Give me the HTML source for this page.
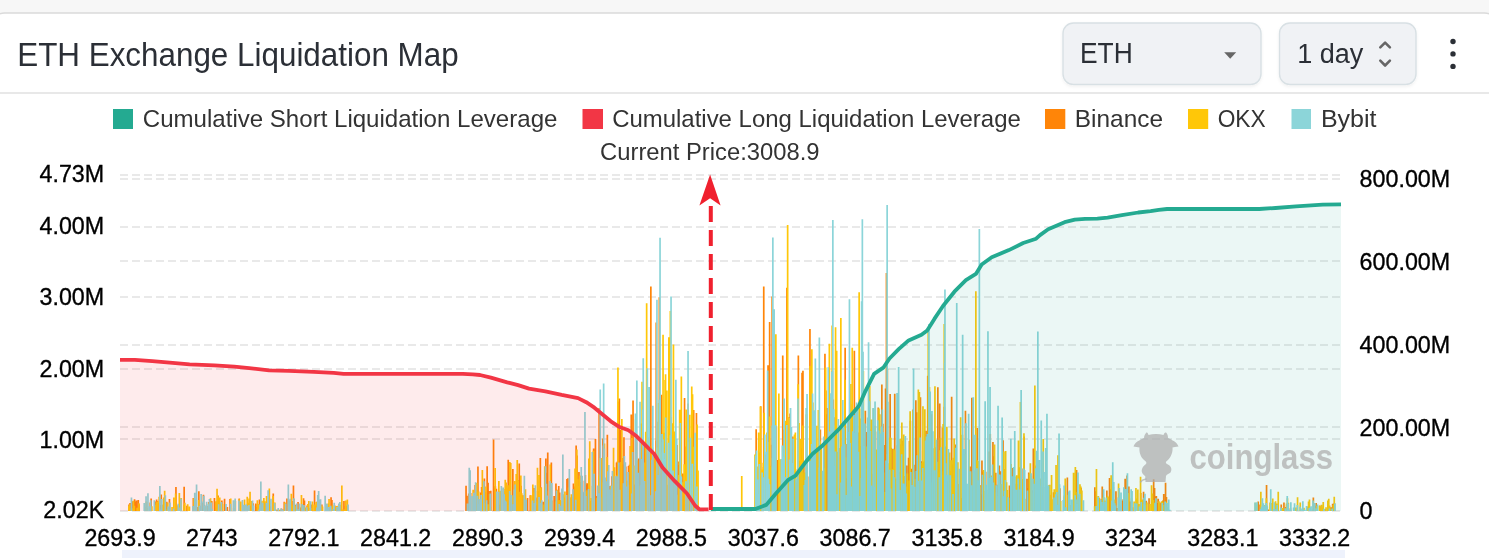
<!DOCTYPE html>
<html><head><meta charset="utf-8"><title>ETH Exchange Liquidation Map</title>
<style>
html,body{margin:0;padding:0}
body{width:1489px;height:558px;overflow:hidden;background:#f7f7f7;position:relative}
svg{position:absolute;left:0;top:0;font-family:"Liberation Sans",Arial,sans-serif}
</style></head><body>
<svg width="1489" height="558" viewBox="0 0 1489 558">
<defs><filter id="sh" x="-5%" y="-10%" width="110%" height="130%"><feDropShadow dx="0" dy="1.5" stdDeviation="1.5" flood-color="#000" flood-opacity="0.06"/></filter></defs>
<rect x="-8.5" y="13" width="1506" height="600" rx="13" fill="#fff" stroke="#dadada" stroke-width="1.5"/>
<rect x="0" y="92.2" width="1489" height="1.6" fill="#e3e3e3"/>
<rect x="1063" y="23" width="198" height="61.5" rx="10.5" fill="#f0f2f5" stroke="#d8e0e4" stroke-width="1.4" filter="url(#sh)"/>
<rect x="1279.5" y="23" width="136.5" height="61.5" rx="10.5" fill="#f0f2f5" stroke="#d8e0e4" stroke-width="1.4" filter="url(#sh)"/>
<path d="M1224.2,52.3 L1236.2,52.3 L1230.2,58.7 Z" fill="#666"/>
<polyline points="1380.3,47.4 1385.1,42.6 1389.9,47.4" fill="none" stroke="#666" stroke-width="2.6" stroke-linecap="round" stroke-linejoin="round"/>
<polyline points="1380.3,60.7 1385.1,65.5 1389.9,60.7" fill="none" stroke="#666" stroke-width="2.6" stroke-linecap="round" stroke-linejoin="round"/>
<circle cx="1453" cy="41.5" r="2.7" fill="#2b2f36"/><circle cx="1453" cy="53.9" r="2.7" fill="#2b2f36"/><circle cx="1453" cy="66.4" r="2.7" fill="#2b2f36"/>
<rect x="113" y="109" width="20" height="20" fill="#24aa91"/>
<rect x="582.5" y="109" width="20.5" height="20" fill="#f23645"/>
<rect x="1045" y="109" width="20.3" height="20" fill="#ff8508"/>
<rect x="1188" y="109" width="20.2" height="20" fill="#ffc708"/>
<rect x="1291.5" y="109" width="19.5" height="20" fill="#8cd5d9"/>
<text x="17.2" y="66.0" font-size="32.5" fill="#2b2f36" textLength="441.5" lengthAdjust="spacingAndGlyphs">ETH Exchange Liquidation Map</text><text x="1079.9" y="63.0" font-size="29.0" fill="#2b2f36" textLength="52.8" lengthAdjust="spacingAndGlyphs">ETH</text><text x="1297.2" y="63.0" font-size="28.4" fill="#2b2f36" textLength="66.2" lengthAdjust="spacingAndGlyphs">1 day</text><text x="142.8" y="127.0" font-size="24.2" fill="#333" textLength="414.6" lengthAdjust="spacingAndGlyphs">Cumulative Short Liquidation Leverage</text><text x="612.2" y="127.0" font-size="24.2" fill="#333" textLength="408.6" lengthAdjust="spacingAndGlyphs">Cumulative Long Liquidation Leverage</text><text x="1074.8" y="127.0" font-size="24.2" fill="#333" textLength="88.2" lengthAdjust="spacingAndGlyphs">Binance</text><text x="1217.7" y="127.0" font-size="24.2" fill="#333" textLength="48.0" lengthAdjust="spacingAndGlyphs">OKX</text><text x="1320.9" y="127.0" font-size="24.2" fill="#333" textLength="55.6" lengthAdjust="spacingAndGlyphs">Bybit</text><text x="709.8" y="159.5" font-size="24.4" fill="#333" text-anchor="middle" textLength="219.5" lengthAdjust="spacingAndGlyphs">Current Price:3008.9</text>
<g stroke="#e9e9e9" stroke-width="2" stroke-dasharray="8 4"><line x1="120" x2="1341" y1="175" y2="175"/><line x1="120" x2="1341" y1="179" y2="179"/><line x1="120" x2="1341" y1="227" y2="227"/><line x1="120" x2="1341" y1="261" y2="261"/><line x1="120" x2="1341" y1="297" y2="297"/><line x1="120" x2="1341" y1="345" y2="345"/><line x1="120" x2="1341" y1="369" y2="369"/><line x1="120" x2="1341" y1="427" y2="427"/><line x1="120" x2="1341" y1="439" y2="439"/><line x1="120" x2="1341" y1="511" y2="511"/></g>
<path fill="#ff8508" d="M128.2 504.4h1.7V511h-1.7zM129.2 503.1h1.7V511h-1.7zM130.1 508.2h1.7V511h-1.7zM131.9 501.3h1.7V511h-1.7zM132.8 507.3h1.7V511h-1.7zM133.7 499.2h1.7V511h-1.7zM134.7 501.7h1.7V511h-1.7zM135.6 500.6h1.7V511h-1.7zM137.4 500.1h1.7V511h-1.7zM138.3 504.3h1.7V511h-1.7zM145.7 501.8h1.7V511h-1.7zM149.4 502.6h1.7V511h-1.7zM150.3 498.5h1.7V511h-1.7zM154.9 501.5h1.7V511h-1.7zM155.8 499.6h1.7V511h-1.7zM156.7 500.9h1.7V511h-1.7zM157.6 503.1h1.7V511h-1.7zM159.5 504.9h1.7V511h-1.7zM160.4 494.5h1.7V511h-1.7zM161.3 509.5h1.7V511h-1.7zM162.2 505.1h1.7V511h-1.7zM165.9 501.8h1.7V511h-1.7zM168.6 499.0h1.7V511h-1.7zM174.1 509.3h1.7V511h-1.7zM175.1 487.1h1.7V511h-1.7zM178.7 503.9h1.7V511h-1.7zM183.3 486.7h1.7V511h-1.7zM186.1 505.8h1.7V511h-1.7zM192.5 498.0h1.7V511h-1.7zM195.3 508.3h1.7V511h-1.7zM197.1 506.9h1.7V511h-1.7zM198.0 491.3h1.7V511h-1.7zM198.9 505.8h1.7V511h-1.7zM200.8 503.1h1.7V511h-1.7zM201.7 508.6h1.7V511h-1.7zM202.6 494.8h1.7V511h-1.7zM203.5 504.8h1.7V511h-1.7zM207.2 505.9h1.7V511h-1.7zM208.1 501.9h1.7V511h-1.7zM209.0 506.2h1.7V511h-1.7zM210.9 500.9h1.7V511h-1.7zM213.6 498.1h1.7V511h-1.7zM214.5 507.6h1.7V511h-1.7zM215.5 501.5h1.7V511h-1.7zM217.3 495.5h1.7V511h-1.7zM219.1 503.9h1.7V511h-1.7zM221.0 500.5h1.7V511h-1.7zM223.7 498.8h1.7V511h-1.7zM224.6 507.7h1.7V511h-1.7zM226.5 507.1h1.7V511h-1.7zM229.2 499.1h1.7V511h-1.7zM232.9 508.0h1.7V511h-1.7zM238.4 498.4h1.7V511h-1.7zM246.7 506.9h1.7V511h-1.7zM249.4 505.8h1.7V511h-1.7zM250.3 505.9h1.7V511h-1.7zM252.2 503.2h1.7V511h-1.7zM254.9 503.6h1.7V511h-1.7zM255.8 506.9h1.7V511h-1.7zM256.8 504.1h1.7V511h-1.7zM258.6 499.6h1.7V511h-1.7zM260.4 502.2h1.7V511h-1.7zM263.2 503.9h1.7V511h-1.7zM264.1 507.7h1.7V511h-1.7zM265.0 503.0h1.7V511h-1.7zM267.8 501.3h1.7V511h-1.7zM272.4 493.5h1.7V511h-1.7zM275.1 509.8h1.7V511h-1.7zM277.0 509.8h1.7V511h-1.7zM278.8 509.9h1.7V511h-1.7zM280.6 508.5h1.7V511h-1.7zM281.6 509.4h1.7V511h-1.7zM282.5 510.1h1.7V511h-1.7zM283.4 501.8h1.7V511h-1.7zM284.3 503.5h1.7V511h-1.7zM286.1 498.6h1.7V511h-1.7zM288.0 504.7h1.7V511h-1.7zM290.7 501.0h1.7V511h-1.7zM291.7 508.3h1.7V511h-1.7zM292.6 485.6h1.7V511h-1.7zM294.4 504.7h1.7V511h-1.7zM296.2 509.5h1.7V511h-1.7zM297.2 502.1h1.7V511h-1.7zM299.9 507.5h1.7V511h-1.7zM300.8 506.6h1.7V511h-1.7zM302.7 498.3h1.7V511h-1.7zM303.6 500.4h1.7V511h-1.7zM306.3 505.5h1.7V511h-1.7zM310.9 504.6h1.7V511h-1.7zM313.7 490.5h1.7V511h-1.7zM314.6 505.5h1.7V511h-1.7zM315.5 506.9h1.7V511h-1.7zM316.4 501.4h1.7V511h-1.7zM317.4 507.2h1.7V511h-1.7zM318.3 505.3h1.7V511h-1.7zM321.0 504.4h1.7V511h-1.7zM330.2 497.2h1.7V511h-1.7zM331.1 500.1h1.7V511h-1.7zM333.9 505.6h1.7V511h-1.7zM335.7 506.7h1.7V511h-1.7zM339.4 508.6h1.7V511h-1.7zM343.1 501.1h1.7V511h-1.7zM344.9 505.8h1.7V511h-1.7zM345.8 505.8h1.7V511h-1.7zM465.2 485.8h1.7V511h-1.7zM466.1 495.8h1.7V511h-1.7zM467.9 493.6h1.7V511h-1.7zM468.8 493.8h1.7V511h-1.7zM469.8 493.0h1.7V511h-1.7zM473.4 494.2h1.7V511h-1.7zM474.3 484.9h1.7V511h-1.7zM475.3 496.4h1.7V511h-1.7zM476.2 502.9h1.7V511h-1.7zM477.1 466.6h1.7V511h-1.7zM479.9 492.4h1.7V511h-1.7zM480.8 487.1h1.7V511h-1.7zM483.5 478.4h1.7V511h-1.7zM484.4 491.8h1.7V511h-1.7zM486.3 466.3h1.7V511h-1.7zM487.2 482.7h1.7V511h-1.7zM488.1 491.0h1.7V511h-1.7zM489.9 490.7h1.7V511h-1.7zM492.7 439.5h1.7V511h-1.7zM493.6 488.2h1.7V511h-1.7zM494.5 486.2h1.7V511h-1.7zM495.5 488.8h1.7V511h-1.7zM498.2 504.5h1.7V511h-1.7zM502.8 491.1h1.7V511h-1.7zM504.6 504.0h1.7V511h-1.7zM506.5 495.7h1.7V511h-1.7zM507.4 459.7h1.7V511h-1.7zM508.3 501.4h1.7V511h-1.7zM509.2 487.7h1.7V511h-1.7zM512.0 468.9h1.7V511h-1.7zM513.8 497.0h1.7V511h-1.7zM514.7 504.3h1.7V511h-1.7zM517.5 479.9h1.7V511h-1.7zM518.4 463.5h1.7V511h-1.7zM519.3 478.0h1.7V511h-1.7zM520.2 485.8h1.7V511h-1.7zM522.1 495.2h1.7V511h-1.7zM526.7 497.9h1.7V511h-1.7zM529.4 495.2h1.7V511h-1.7zM533.1 488.1h1.7V511h-1.7zM534.0 506.4h1.7V511h-1.7zM534.9 497.4h1.7V511h-1.7zM535.9 505.6h1.7V511h-1.7zM536.8 491.1h1.7V511h-1.7zM537.7 493.4h1.7V511h-1.7zM538.6 480.3h1.7V511h-1.7zM539.5 457.9h1.7V511h-1.7zM540.4 487.6h1.7V511h-1.7zM542.3 501.7h1.7V511h-1.7zM543.2 502.9h1.7V511h-1.7zM545.0 458.4h1.7V511h-1.7zM546.0 472.8h1.7V511h-1.7zM546.9 452.4h1.7V511h-1.7zM548.7 501.9h1.7V511h-1.7zM549.6 485.0h1.7V511h-1.7zM550.5 462.5h1.7V511h-1.7zM553.3 496.0h1.7V511h-1.7zM555.1 483.4h1.7V511h-1.7zM556.0 489.8h1.7V511h-1.7zM557.0 492.3h1.7V511h-1.7zM557.9 485.9h1.7V511h-1.7zM558.8 492.4h1.7V511h-1.7zM561.6 504.1h1.7V511h-1.7zM562.5 504.4h1.7V511h-1.7zM563.4 498.9h1.7V511h-1.7zM566.1 478.9h1.7V511h-1.7zM567.1 478.2h1.7V511h-1.7zM570.7 497.3h1.7V511h-1.7zM572.6 483.5h1.7V511h-1.7zM573.5 486.5h1.7V511h-1.7zM575.3 445.6h1.7V511h-1.7zM576.2 455.4h1.7V511h-1.7zM578.1 472.1h1.7V511h-1.7zM579.0 475.7h1.7V511h-1.7zM579.9 482.0h1.7V511h-1.7zM580.8 485.5h1.7V511h-1.7zM582.7 492.3h1.7V511h-1.7zM583.6 480.7h1.7V511h-1.7zM584.5 475.1h1.7V511h-1.7zM585.4 485.0h1.7V511h-1.7zM586.3 483.3h1.7V511h-1.7zM587.3 492.2h1.7V511h-1.7zM588.2 502.3h1.7V511h-1.7zM592.8 448.6h1.7V511h-1.7zM594.6 439.1h1.7V511h-1.7zM595.5 496.1h1.7V511h-1.7zM597.4 490.5h1.7V511h-1.7zM598.3 408.1h1.7V511h-1.7zM599.2 408.8h1.7V511h-1.7zM600.1 468.6h1.7V511h-1.7zM601.0 490.6h1.7V511h-1.7zM602.0 438.6h1.7V511h-1.7zM602.9 487.2h1.7V511h-1.7zM603.8 487.7h1.7V511h-1.7zM606.5 434.8h1.7V511h-1.7zM608.4 486.0h1.7V511h-1.7zM611.1 476.2h1.7V511h-1.7zM614.8 496.3h1.7V511h-1.7zM615.7 462.5h1.7V511h-1.7zM616.6 461.4h1.7V511h-1.7zM617.6 401.4h1.7V511h-1.7zM618.5 398.4h1.7V511h-1.7zM619.4 430.1h1.7V511h-1.7zM620.3 491.5h1.7V511h-1.7zM621.2 458.0h1.7V511h-1.7zM622.1 464.4h1.7V511h-1.7zM623.1 437.2h1.7V511h-1.7zM624.9 466.6h1.7V511h-1.7zM627.7 465.9h1.7V511h-1.7zM628.6 464.7h1.7V511h-1.7zM629.5 474.5h1.7V511h-1.7zM630.4 414.4h1.7V511h-1.7zM632.2 400.4h1.7V511h-1.7zM633.2 484.6h1.7V511h-1.7zM634.1 493.1h1.7V511h-1.7zM635.0 475.8h1.7V511h-1.7zM635.9 461.2h1.7V511h-1.7zM637.8 458.5h1.7V511h-1.7zM639.6 457.6h1.7V511h-1.7zM640.5 452.5h1.7V511h-1.7zM641.4 479.8h1.7V511h-1.7zM642.3 389.2h1.7V511h-1.7zM643.3 445.2h1.7V511h-1.7zM646.0 407.3h1.7V511h-1.7zM650.6 460.6h1.7V511h-1.7zM651.5 447.6h1.7V511h-1.7zM653.4 454.2h1.7V511h-1.7zM654.3 457.9h1.7V511h-1.7zM655.2 440.6h1.7V511h-1.7zM657.0 421.7h1.7V511h-1.7zM658.0 434.4h1.7V511h-1.7zM658.9 477.5h1.7V511h-1.7zM659.8 477.7h1.7V511h-1.7zM660.7 394.8h1.7V511h-1.7zM665.3 456.5h1.7V511h-1.7zM669.9 416.9h1.7V511h-1.7zM671.7 453.7h1.7V511h-1.7zM672.6 463.2h1.7V511h-1.7zM673.6 464.1h1.7V511h-1.7zM675.4 448.4h1.7V511h-1.7zM676.3 444.9h1.7V511h-1.7zM677.2 461.4h1.7V511h-1.7zM678.1 465.0h1.7V511h-1.7zM679.1 491.5h1.7V511h-1.7zM680.0 497.2h1.7V511h-1.7zM681.8 473.5h1.7V511h-1.7zM682.7 491.7h1.7V511h-1.7zM683.7 398.1h1.7V511h-1.7zM685.5 446.5h1.7V511h-1.7zM686.4 455.9h1.7V511h-1.7zM687.3 403.4h1.7V511h-1.7zM688.2 475.5h1.7V511h-1.7zM689.2 443.9h1.7V511h-1.7zM691.0 480.7h1.7V511h-1.7zM691.9 481.3h1.7V511h-1.7zM692.8 410.1h1.7V511h-1.7zM694.7 490.6h1.7V511h-1.7zM695.6 412.9h1.7V511h-1.7zM696.5 479.6h1.7V511h-1.7zM755.3 429.2h1.7V511h-1.7zM758.9 452.4h1.7V511h-1.7zM759.9 406.3h1.7V511h-1.7zM762.6 467.0h1.7V511h-1.7zM764.4 477.4h1.7V511h-1.7zM767.2 365.2h1.7V511h-1.7zM769.0 465.8h1.7V511h-1.7zM770.9 444.8h1.7V511h-1.7zM772.7 479.9h1.7V511h-1.7zM775.5 426.2h1.7V511h-1.7zM776.4 459.9h1.7V511h-1.7zM777.3 475.6h1.7V511h-1.7zM780.1 476.3h1.7V511h-1.7zM781.9 355.6h1.7V511h-1.7zM782.8 429.7h1.7V511h-1.7zM785.6 457.8h1.7V511h-1.7zM786.5 478.2h1.7V511h-1.7zM788.3 417.1h1.7V511h-1.7zM789.2 413.4h1.7V511h-1.7zM791.1 498.4h1.7V511h-1.7zM792.0 436.4h1.7V511h-1.7zM792.9 486.4h1.7V511h-1.7zM796.6 469.2h1.7V511h-1.7zM797.5 355.6h1.7V511h-1.7zM799.3 460.8h1.7V511h-1.7zM800.2 448.2h1.7V511h-1.7zM801.2 372.8h1.7V511h-1.7zM802.1 370.8h1.7V511h-1.7zM803.0 461.9h1.7V511h-1.7zM804.8 476.4h1.7V511h-1.7zM805.8 414.3h1.7V511h-1.7zM808.5 476.6h1.7V511h-1.7zM809.4 451.1h1.7V511h-1.7zM811.3 472.7h1.7V511h-1.7zM813.1 459.2h1.7V511h-1.7zM814.0 454.3h1.7V511h-1.7zM814.9 450.1h1.7V511h-1.7zM815.9 451.6h1.7V511h-1.7zM818.6 457.1h1.7V511h-1.7zM819.5 429.5h1.7V511h-1.7zM823.2 473.6h1.7V511h-1.7zM824.1 353.8h1.7V511h-1.7zM825.0 390.4h1.7V511h-1.7zM826.0 414.3h1.7V511h-1.7zM826.9 408.0h1.7V511h-1.7zM827.8 450.4h1.7V511h-1.7zM830.5 397.2h1.7V511h-1.7zM831.5 371.0h1.7V511h-1.7zM832.4 399.6h1.7V511h-1.7zM833.3 452.7h1.7V511h-1.7zM834.2 417.2h1.7V511h-1.7zM835.1 441.0h1.7V511h-1.7zM837.9 448.0h1.7V511h-1.7zM840.6 476.4h1.7V511h-1.7zM841.6 428.2h1.7V511h-1.7zM842.5 462.0h1.7V511h-1.7zM844.3 347.7h1.7V511h-1.7zM845.2 478.3h1.7V511h-1.7zM846.2 443.9h1.7V511h-1.7zM847.1 419.8h1.7V511h-1.7zM848.0 481.3h1.7V511h-1.7zM848.9 494.6h1.7V511h-1.7zM849.8 403.8h1.7V511h-1.7zM851.7 478.3h1.7V511h-1.7zM852.6 456.8h1.7V511h-1.7zM853.5 350.8h1.7V511h-1.7zM854.4 432.0h1.7V511h-1.7zM855.3 412.8h1.7V511h-1.7zM856.2 466.8h1.7V511h-1.7zM857.2 432.6h1.7V511h-1.7zM859.0 492.3h1.7V511h-1.7zM860.8 429.4h1.7V511h-1.7zM861.8 405.2h1.7V511h-1.7zM862.7 438.4h1.7V511h-1.7zM864.5 410.7h1.7V511h-1.7zM865.4 431.9h1.7V511h-1.7zM866.3 442.3h1.7V511h-1.7zM867.3 430.4h1.7V511h-1.7zM869.1 479.5h1.7V511h-1.7zM870.0 488.9h1.7V511h-1.7zM870.9 473.8h1.7V511h-1.7zM874.6 431.5h1.7V511h-1.7zM875.5 472.1h1.7V511h-1.7zM877.4 407.5h1.7V511h-1.7zM878.3 453.5h1.7V511h-1.7zM879.2 471.6h1.7V511h-1.7zM880.1 448.0h1.7V511h-1.7zM881.0 384.4h1.7V511h-1.7zM882.0 423.8h1.7V511h-1.7zM883.8 445.0h1.7V511h-1.7zM884.7 388.5h1.7V511h-1.7zM885.6 478.4h1.7V511h-1.7zM886.5 368.9h1.7V511h-1.7zM889.3 394.0h1.7V511h-1.7zM890.2 447.8h1.7V511h-1.7zM892.1 448.7h1.7V511h-1.7zM893.0 477.9h1.7V511h-1.7zM893.9 393.8h1.7V511h-1.7zM895.7 486.7h1.7V511h-1.7zM899.4 471.7h1.7V511h-1.7zM900.3 444.3h1.7V511h-1.7zM901.2 440.6h1.7V511h-1.7zM902.2 486.8h1.7V511h-1.7zM903.1 476.0h1.7V511h-1.7zM904.0 480.1h1.7V511h-1.7zM904.9 480.0h1.7V511h-1.7zM905.8 465.5h1.7V511h-1.7zM906.7 481.7h1.7V511h-1.7zM907.7 457.8h1.7V511h-1.7zM908.6 441.0h1.7V511h-1.7zM909.5 420.8h1.7V511h-1.7zM910.4 468.7h1.7V511h-1.7zM911.3 482.1h1.7V511h-1.7zM912.2 409.6h1.7V511h-1.7zM913.2 464.7h1.7V511h-1.7zM915.0 400.2h1.7V511h-1.7zM915.9 412.2h1.7V511h-1.7zM916.8 455.9h1.7V511h-1.7zM917.8 485.9h1.7V511h-1.7zM918.7 485.8h1.7V511h-1.7zM919.6 397.3h1.7V511h-1.7zM920.5 461.2h1.7V511h-1.7zM921.4 491.9h1.7V511h-1.7zM922.3 467.9h1.7V511h-1.7zM923.3 462.8h1.7V511h-1.7zM925.1 430.7h1.7V511h-1.7zM926.0 498.5h1.7V511h-1.7zM926.9 375.7h1.7V511h-1.7zM927.9 450.9h1.7V511h-1.7zM928.8 444.6h1.7V511h-1.7zM929.7 470.6h1.7V511h-1.7zM930.6 414.3h1.7V511h-1.7zM933.4 481.4h1.7V511h-1.7zM934.3 495.4h1.7V511h-1.7zM935.2 447.3h1.7V511h-1.7zM936.1 449.9h1.7V511h-1.7zM937.0 387.3h1.7V511h-1.7zM938.9 403.6h1.7V511h-1.7zM939.8 487.8h1.7V511h-1.7zM940.7 460.3h1.7V511h-1.7zM941.6 427.5h1.7V511h-1.7zM943.5 406.8h1.7V511h-1.7zM944.4 486.1h1.7V511h-1.7zM945.3 446.6h1.7V511h-1.7zM946.2 481.2h1.7V511h-1.7zM948.1 461.6h1.7V511h-1.7zM949.0 477.5h1.7V511h-1.7zM950.8 396.8h1.7V511h-1.7zM952.6 464.2h1.7V511h-1.7zM954.5 444.5h1.7V511h-1.7zM955.4 494.6h1.7V511h-1.7zM958.2 484.0h1.7V511h-1.7zM960.9 498.1h1.7V511h-1.7zM961.8 493.4h1.7V511h-1.7zM964.6 410.7h1.7V511h-1.7zM969.2 466.4h1.7V511h-1.7zM970.1 482.1h1.7V511h-1.7zM971.0 397.8h1.7V511h-1.7zM973.8 474.2h1.7V511h-1.7zM976.5 428.1h1.7V511h-1.7zM977.4 498.0h1.7V511h-1.7zM979.3 485.2h1.7V511h-1.7zM980.2 494.6h1.7V511h-1.7zM981.1 460.5h1.7V511h-1.7zM982.0 471.6h1.7V511h-1.7zM984.8 471.7h1.7V511h-1.7zM985.7 489.8h1.7V511h-1.7zM988.4 451.5h1.7V511h-1.7zM989.4 434.1h1.7V511h-1.7zM991.2 483.6h1.7V511h-1.7zM992.1 442.0h1.7V511h-1.7zM993.0 456.2h1.7V511h-1.7zM994.9 472.8h1.7V511h-1.7zM996.7 484.7h1.7V511h-1.7zM998.5 465.4h1.7V511h-1.7zM999.5 471.2h1.7V511h-1.7zM1002.2 440.2h1.7V511h-1.7zM1004.1 468.9h1.7V511h-1.7zM1005.0 494.6h1.7V511h-1.7zM1008.6 485.6h1.7V511h-1.7zM1011.4 468.0h1.7V511h-1.7zM1012.3 490.6h1.7V511h-1.7zM1013.2 471.0h1.7V511h-1.7zM1014.2 483.8h1.7V511h-1.7zM1016.9 483.9h1.7V511h-1.7zM1020.6 489.0h1.7V511h-1.7zM1022.4 468.5h1.7V511h-1.7zM1023.3 436.5h1.7V511h-1.7zM1026.1 478.8h1.7V511h-1.7zM1027.0 488.0h1.7V511h-1.7zM1027.9 472.6h1.7V511h-1.7zM1031.6 490.3h1.7V511h-1.7zM1032.5 448.5h1.7V511h-1.7zM1033.4 494.9h1.7V511h-1.7zM1034.3 502.0h1.7V511h-1.7zM1035.3 465.6h1.7V511h-1.7zM1036.2 494.7h1.7V511h-1.7zM1038.0 467.7h1.7V511h-1.7zM1039.9 490.1h1.7V511h-1.7zM1042.6 487.1h1.7V511h-1.7zM1045.4 483.5h1.7V511h-1.7zM1049.0 494.8h1.7V511h-1.7zM1052.7 492.2h1.7V511h-1.7zM1054.5 495.9h1.7V511h-1.7zM1055.5 493.0h1.7V511h-1.7zM1056.4 496.3h1.7V511h-1.7zM1059.1 488.2h1.7V511h-1.7zM1063.7 495.3h1.7V511h-1.7zM1066.5 477.4h1.7V511h-1.7zM1069.2 504.9h1.7V511h-1.7zM1072.9 500.7h1.7V511h-1.7zM1075.7 469.9h1.7V511h-1.7zM1078.4 494.8h1.7V511h-1.7zM1080.3 487.9h1.7V511h-1.7zM1094.0 487.2h1.7V511h-1.7zM1094.9 491.3h1.7V511h-1.7zM1098.6 498.5h1.7V511h-1.7zM1100.4 499.5h1.7V511h-1.7zM1101.4 486.4h1.7V511h-1.7zM1105.0 502.8h1.7V511h-1.7zM1106.0 490.5h1.7V511h-1.7zM1108.7 478.1h1.7V511h-1.7zM1109.6 489.3h1.7V511h-1.7zM1112.4 486.7h1.7V511h-1.7zM1113.3 504.5h1.7V511h-1.7zM1115.1 491.3h1.7V511h-1.7zM1116.1 508.1h1.7V511h-1.7zM1117.9 497.1h1.7V511h-1.7zM1118.8 505.7h1.7V511h-1.7zM1121.6 500.6h1.7V511h-1.7zM1122.5 499.0h1.7V511h-1.7zM1124.3 478.7h1.7V511h-1.7zM1126.2 475.6h1.7V511h-1.7zM1127.1 500.3h1.7V511h-1.7zM1128.0 486.5h1.7V511h-1.7zM1129.8 501.4h1.7V511h-1.7zM1130.7 498.3h1.7V511h-1.7zM1131.7 507.3h1.7V511h-1.7zM1134.4 505.0h1.7V511h-1.7zM1139.9 493.0h1.7V511h-1.7zM1142.7 491.7h1.7V511h-1.7zM1144.5 501.1h1.7V511h-1.7zM1145.4 500.8h1.7V511h-1.7zM1148.2 498.3h1.7V511h-1.7zM1150.9 498.1h1.7V511h-1.7zM1151.9 498.9h1.7V511h-1.7zM1152.8 479.3h1.7V511h-1.7zM1153.7 488.1h1.7V511h-1.7zM1154.6 497.2h1.7V511h-1.7zM1155.5 495.9h1.7V511h-1.7zM1156.4 503.0h1.7V511h-1.7zM1157.4 498.7h1.7V511h-1.7zM1158.3 504.2h1.7V511h-1.7zM1159.2 502.5h1.7V511h-1.7zM1161.0 504.9h1.7V511h-1.7zM1162.0 500.6h1.7V511h-1.7zM1162.9 493.9h1.7V511h-1.7zM1164.7 482.7h1.7V511h-1.7zM1165.6 497.0h1.7V511h-1.7zM1256.5 507.3h1.7V511h-1.7zM1257.4 501.5h1.7V511h-1.7zM1259.3 504.6h1.7V511h-1.7zM1265.7 484.9h1.7V511h-1.7zM1267.5 509.6h1.7V511h-1.7zM1271.2 502.9h1.7V511h-1.7zM1274.9 507.7h1.7V511h-1.7zM1280.4 504.6h1.7V511h-1.7zM1283.1 502.5h1.7V511h-1.7zM1285.0 507.1h1.7V511h-1.7zM1285.9 505.0h1.7V511h-1.7zM1289.6 508.2h1.7V511h-1.7zM1311.6 509.5h1.7V511h-1.7zM1312.5 497.4h1.7V511h-1.7zM1314.4 505.8h1.7V511h-1.7zM1315.3 503.1h1.7V511h-1.7zM1316.2 507.6h1.7V511h-1.7zM1318.9 505.4h1.7V511h-1.7zM1320.8 507.0h1.7V511h-1.7zM1327.2 507.2h1.7V511h-1.7zM1328.1 508.6h1.7V511h-1.7zM1329.0 509.8h1.7V511h-1.7zM1330.0 507.2h1.7V511h-1.7zM1330.9 507.8h1.7V511h-1.7zM1331.8 503.7h1.7V511h-1.7zM1332.7 507.4h1.7V511h-1.7zM1333.6 503.1h1.7V511h-1.7zM650.0 286.6h1.7V511h-1.7zM655.4 322.5h1.7V511h-1.7zM658.5 297.2h1.7V511h-1.7zM762.9 286.4h1.7V511h-1.7zM768.8 321.9h1.7V511h-1.7zM771.3 296.6h1.7V511h-1.7zM786.1 287.8h1.7V511h-1.7zM809.1 328.9h1.7V511h-1.7zM885.6 273.0h1.7V511h-1.7z"/><path fill="#ffc708" d="M128.0 506.0h1.7V511h-1.7zM128.9 504.3h1.7V511h-1.7zM129.9 508.2h1.7V511h-1.7zM131.7 508.3h1.7V511h-1.7zM132.6 500.8h1.7V511h-1.7zM133.5 505.8h1.7V511h-1.7zM136.3 507.8h1.7V511h-1.7zM138.1 503.3h1.7V511h-1.7zM144.5 507.0h1.7V511h-1.7zM145.5 501.6h1.7V511h-1.7zM146.4 508.0h1.7V511h-1.7zM151.0 506.2h1.7V511h-1.7zM154.6 504.7h1.7V511h-1.7zM155.6 502.2h1.7V511h-1.7zM156.5 501.5h1.7V511h-1.7zM158.3 496.8h1.7V511h-1.7zM161.1 504.6h1.7V511h-1.7zM162.9 497.4h1.7V511h-1.7zM163.8 490.8h1.7V511h-1.7zM165.7 509.5h1.7V511h-1.7zM166.6 502.8h1.7V511h-1.7zM168.4 509.1h1.7V511h-1.7zM171.2 507.1h1.7V511h-1.7zM173.0 497.5h1.7V511h-1.7zM174.8 493.5h1.7V511h-1.7zM176.7 505.2h1.7V511h-1.7zM178.5 493.1h1.7V511h-1.7zM180.4 498.0h1.7V511h-1.7zM183.1 505.1h1.7V511h-1.7zM184.0 502.8h1.7V511h-1.7zM186.8 504.3h1.7V511h-1.7zM188.6 506.4h1.7V511h-1.7zM193.2 498.3h1.7V511h-1.7zM197.8 500.1h1.7V511h-1.7zM204.2 506.6h1.7V511h-1.7zM207.9 503.6h1.7V511h-1.7zM208.8 502.8h1.7V511h-1.7zM209.7 498.2h1.7V511h-1.7zM215.2 501.6h1.7V511h-1.7zM216.2 488.7h1.7V511h-1.7zM217.1 496.4h1.7V511h-1.7zM218.0 504.0h1.7V511h-1.7zM218.9 497.5h1.7V511h-1.7zM219.8 507.1h1.7V511h-1.7zM220.7 503.2h1.7V511h-1.7zM221.7 504.1h1.7V511h-1.7zM229.9 498.6h1.7V511h-1.7zM234.5 501.0h1.7V511h-1.7zM238.2 499.3h1.7V511h-1.7zM240.0 501.4h1.7V511h-1.7zM243.7 499.4h1.7V511h-1.7zM246.4 496.8h1.7V511h-1.7zM247.4 502.7h1.7V511h-1.7zM248.3 498.5h1.7V511h-1.7zM249.2 491.8h1.7V511h-1.7zM250.1 509.6h1.7V511h-1.7zM251.0 501.1h1.7V511h-1.7zM252.0 505.8h1.7V511h-1.7zM256.5 500.3h1.7V511h-1.7zM257.5 503.9h1.7V511h-1.7zM258.4 506.5h1.7V511h-1.7zM261.1 500.7h1.7V511h-1.7zM263.0 498.1h1.7V511h-1.7zM263.9 501.3h1.7V511h-1.7zM265.7 496.0h1.7V511h-1.7zM268.5 488.4h1.7V511h-1.7zM269.4 506.2h1.7V511h-1.7zM272.2 496.1h1.7V511h-1.7zM273.1 505.8h1.7V511h-1.7zM274.0 502.5h1.7V511h-1.7zM274.9 509.7h1.7V511h-1.7zM277.7 509.3h1.7V511h-1.7zM278.6 510.3h1.7V511h-1.7zM283.2 510.3h1.7V511h-1.7zM284.1 502.4h1.7V511h-1.7zM287.8 506.3h1.7V511h-1.7zM289.6 507.6h1.7V511h-1.7zM290.5 493.7h1.7V511h-1.7zM291.4 505.3h1.7V511h-1.7zM293.3 499.1h1.7V511h-1.7zM294.2 505.4h1.7V511h-1.7zM295.1 506.9h1.7V511h-1.7zM297.9 509.3h1.7V511h-1.7zM300.6 495.0h1.7V511h-1.7zM301.5 506.8h1.7V511h-1.7zM304.3 507.4h1.7V511h-1.7zM306.1 506.9h1.7V511h-1.7zM307.0 503.9h1.7V511h-1.7zM308.0 501.0h1.7V511h-1.7zM309.8 508.0h1.7V511h-1.7zM311.6 501.5h1.7V511h-1.7zM313.5 504.5h1.7V511h-1.7zM315.3 502.0h1.7V511h-1.7zM316.2 506.5h1.7V511h-1.7zM319.0 507.2h1.7V511h-1.7zM319.9 505.0h1.7V511h-1.7zM321.7 506.4h1.7V511h-1.7zM325.4 506.1h1.7V511h-1.7zM327.2 503.5h1.7V511h-1.7zM328.2 498.9h1.7V511h-1.7zM330.0 508.4h1.7V511h-1.7zM330.9 507.2h1.7V511h-1.7zM331.8 505.3h1.7V511h-1.7zM334.6 507.0h1.7V511h-1.7zM335.5 505.9h1.7V511h-1.7zM337.3 505.8h1.7V511h-1.7zM338.3 507.5h1.7V511h-1.7zM339.2 504.7h1.7V511h-1.7zM341.0 485.6h1.7V511h-1.7zM341.9 509.6h1.7V511h-1.7zM343.8 509.3h1.7V511h-1.7zM344.7 500.6h1.7V511h-1.7zM346.5 499.6h1.7V511h-1.7zM472.3 489.7h1.7V511h-1.7zM473.2 506.1h1.7V511h-1.7zM474.1 494.7h1.7V511h-1.7zM475.0 498.3h1.7V511h-1.7zM476.0 483.1h1.7V511h-1.7zM477.8 491.6h1.7V511h-1.7zM479.6 501.2h1.7V511h-1.7zM480.6 494.4h1.7V511h-1.7zM481.5 470.0h1.7V511h-1.7zM482.4 495.9h1.7V511h-1.7zM484.2 503.2h1.7V511h-1.7zM485.1 486.5h1.7V511h-1.7zM487.0 504.3h1.7V511h-1.7zM488.8 493.9h1.7V511h-1.7zM489.7 506.8h1.7V511h-1.7zM494.3 468.0h1.7V511h-1.7zM498.0 481.1h1.7V511h-1.7zM499.8 490.7h1.7V511h-1.7zM502.6 488.9h1.7V511h-1.7zM503.5 494.5h1.7V511h-1.7zM504.4 479.7h1.7V511h-1.7zM505.3 482.6h1.7V511h-1.7zM506.3 488.6h1.7V511h-1.7zM507.2 485.3h1.7V511h-1.7zM508.1 504.8h1.7V511h-1.7zM509.0 461.9h1.7V511h-1.7zM509.9 462.9h1.7V511h-1.7zM511.8 495.4h1.7V511h-1.7zM513.6 480.9h1.7V511h-1.7zM514.5 491.5h1.7V511h-1.7zM515.4 474.0h1.7V511h-1.7zM516.4 460.1h1.7V511h-1.7zM517.3 480.2h1.7V511h-1.7zM518.2 497.0h1.7V511h-1.7zM519.1 491.8h1.7V511h-1.7zM520.0 475.4h1.7V511h-1.7zM520.9 493.2h1.7V511h-1.7zM522.8 495.8h1.7V511h-1.7zM524.6 489.2h1.7V511h-1.7zM530.1 495.3h1.7V511h-1.7zM532.0 484.6h1.7V511h-1.7zM532.9 500.5h1.7V511h-1.7zM533.8 492.2h1.7V511h-1.7zM534.7 501.3h1.7V511h-1.7zM536.6 467.7h1.7V511h-1.7zM538.4 475.0h1.7V511h-1.7zM539.3 488.2h1.7V511h-1.7zM540.2 487.4h1.7V511h-1.7zM542.1 504.6h1.7V511h-1.7zM543.9 466.3h1.7V511h-1.7zM544.8 497.1h1.7V511h-1.7zM545.7 491.2h1.7V511h-1.7zM547.6 499.5h1.7V511h-1.7zM549.4 464.5h1.7V511h-1.7zM551.2 500.5h1.7V511h-1.7zM554.9 501.4h1.7V511h-1.7zM555.8 497.0h1.7V511h-1.7zM556.7 490.3h1.7V511h-1.7zM557.7 500.2h1.7V511h-1.7zM559.5 500.0h1.7V511h-1.7zM560.4 505.7h1.7V511h-1.7zM561.3 500.7h1.7V511h-1.7zM562.3 494.3h1.7V511h-1.7zM563.2 497.5h1.7V511h-1.7zM564.1 491.4h1.7V511h-1.7zM567.8 487.6h1.7V511h-1.7zM569.6 497.6h1.7V511h-1.7zM570.5 494.3h1.7V511h-1.7zM574.2 468.4h1.7V511h-1.7zM575.1 471.9h1.7V511h-1.7zM576.0 449.6h1.7V511h-1.7zM576.9 479.2h1.7V511h-1.7zM577.9 486.1h1.7V511h-1.7zM578.8 475.4h1.7V511h-1.7zM584.3 491.6h1.7V511h-1.7zM586.1 490.2h1.7V511h-1.7zM588.0 458.5h1.7V511h-1.7zM588.9 441.3h1.7V511h-1.7zM589.8 501.3h1.7V511h-1.7zM590.7 498.0h1.7V511h-1.7zM591.6 485.8h1.7V511h-1.7zM592.6 450.8h1.7V511h-1.7zM593.5 499.7h1.7V511h-1.7zM596.2 498.1h1.7V511h-1.7zM598.1 475.4h1.7V511h-1.7zM599.0 457.9h1.7V511h-1.7zM599.9 494.2h1.7V511h-1.7zM600.8 457.9h1.7V511h-1.7zM601.7 482.6h1.7V511h-1.7zM603.6 443.6h1.7V511h-1.7zM606.3 457.1h1.7V511h-1.7zM610.0 485.8h1.7V511h-1.7zM612.7 447.7h1.7V511h-1.7zM613.7 467.3h1.7V511h-1.7zM615.5 491.0h1.7V511h-1.7zM616.4 474.9h1.7V511h-1.7zM620.1 462.0h1.7V511h-1.7zM621.0 419.0h1.7V511h-1.7zM624.7 471.7h1.7V511h-1.7zM625.6 499.2h1.7V511h-1.7zM626.5 480.5h1.7V511h-1.7zM627.4 485.1h1.7V511h-1.7zM629.3 445.9h1.7V511h-1.7zM630.2 459.0h1.7V511h-1.7zM631.1 438.1h1.7V511h-1.7zM632.9 465.6h1.7V511h-1.7zM634.8 419.4h1.7V511h-1.7zM635.7 442.2h1.7V511h-1.7zM636.6 460.4h1.7V511h-1.7zM638.5 485.7h1.7V511h-1.7zM640.3 423.4h1.7V511h-1.7zM641.2 381.8h1.7V511h-1.7zM642.1 473.4h1.7V511h-1.7zM643.0 480.7h1.7V511h-1.7zM644.0 462.6h1.7V511h-1.7zM644.9 431.7h1.7V511h-1.7zM645.8 379.0h1.7V511h-1.7zM646.7 474.5h1.7V511h-1.7zM647.6 437.6h1.7V511h-1.7zM650.4 446.7h1.7V511h-1.7zM651.3 471.1h1.7V511h-1.7zM654.1 458.1h1.7V511h-1.7zM655.0 471.1h1.7V511h-1.7zM655.9 447.5h1.7V511h-1.7zM656.8 451.6h1.7V511h-1.7zM657.7 403.0h1.7V511h-1.7zM658.7 412.1h1.7V511h-1.7zM659.6 459.5h1.7V511h-1.7zM660.5 452.6h1.7V511h-1.7zM661.4 442.0h1.7V511h-1.7zM662.3 473.0h1.7V511h-1.7zM663.2 432.7h1.7V511h-1.7zM664.2 380.1h1.7V511h-1.7zM665.1 416.7h1.7V511h-1.7zM666.0 390.4h1.7V511h-1.7zM667.8 484.7h1.7V511h-1.7zM669.7 441.5h1.7V511h-1.7zM670.6 489.9h1.7V511h-1.7zM671.5 423.2h1.7V511h-1.7zM673.3 431.5h1.7V511h-1.7zM675.2 486.0h1.7V511h-1.7zM676.1 494.7h1.7V511h-1.7zM677.9 475.0h1.7V511h-1.7zM678.8 409.8h1.7V511h-1.7zM680.7 497.1h1.7V511h-1.7zM681.6 482.3h1.7V511h-1.7zM683.4 464.3h1.7V511h-1.7zM684.4 480.1h1.7V511h-1.7zM685.3 409.6h1.7V511h-1.7zM686.2 418.5h1.7V511h-1.7zM687.1 441.9h1.7V511h-1.7zM688.0 504.2h1.7V511h-1.7zM688.9 414.8h1.7V511h-1.7zM690.8 452.8h1.7V511h-1.7zM691.7 394.2h1.7V511h-1.7zM692.6 446.8h1.7V511h-1.7zM693.5 466.3h1.7V511h-1.7zM694.5 484.2h1.7V511h-1.7zM696.3 424.4h1.7V511h-1.7zM697.2 470.5h1.7V511h-1.7zM754.1 454.6h1.7V511h-1.7zM755.0 453.7h1.7V511h-1.7zM756.0 472.9h1.7V511h-1.7zM756.9 466.4h1.7V511h-1.7zM757.8 432.4h1.7V511h-1.7zM758.7 481.9h1.7V511h-1.7zM759.6 406.6h1.7V511h-1.7zM760.6 478.0h1.7V511h-1.7zM761.5 469.5h1.7V511h-1.7zM762.4 462.8h1.7V511h-1.7zM763.3 412.8h1.7V511h-1.7zM764.2 474.9h1.7V511h-1.7zM765.1 454.6h1.7V511h-1.7zM766.1 432.5h1.7V511h-1.7zM767.9 441.9h1.7V511h-1.7zM768.8 416.6h1.7V511h-1.7zM769.7 466.4h1.7V511h-1.7zM771.6 457.9h1.7V511h-1.7zM772.5 417.4h1.7V511h-1.7zM773.4 462.2h1.7V511h-1.7zM775.2 448.0h1.7V511h-1.7zM778.0 393.6h1.7V511h-1.7zM779.8 459.2h1.7V511h-1.7zM782.6 455.8h1.7V511h-1.7zM783.5 453.0h1.7V511h-1.7zM784.4 420.8h1.7V511h-1.7zM785.3 448.8h1.7V511h-1.7zM786.3 419.7h1.7V511h-1.7zM787.2 472.7h1.7V511h-1.7zM788.1 465.8h1.7V511h-1.7zM789.0 418.0h1.7V511h-1.7zM789.9 434.2h1.7V511h-1.7zM791.8 475.3h1.7V511h-1.7zM792.7 485.7h1.7V511h-1.7zM793.6 434.4h1.7V511h-1.7zM794.5 432.6h1.7V511h-1.7zM795.4 482.8h1.7V511h-1.7zM797.3 384.2h1.7V511h-1.7zM798.2 423.1h1.7V511h-1.7zM800.0 438.8h1.7V511h-1.7zM800.9 459.7h1.7V511h-1.7zM801.9 425.5h1.7V511h-1.7zM803.7 472.4h1.7V511h-1.7zM805.5 414.5h1.7V511h-1.7zM809.2 365.9h1.7V511h-1.7zM810.1 428.6h1.7V511h-1.7zM811.0 349.2h1.7V511h-1.7zM812.0 402.5h1.7V511h-1.7zM812.9 415.1h1.7V511h-1.7zM813.8 437.2h1.7V511h-1.7zM814.7 445.9h1.7V511h-1.7zM815.6 425.8h1.7V511h-1.7zM816.6 484.0h1.7V511h-1.7zM817.5 410.0h1.7V511h-1.7zM818.4 431.9h1.7V511h-1.7zM819.3 441.3h1.7V511h-1.7zM820.2 447.6h1.7V511h-1.7zM823.0 468.0h1.7V511h-1.7zM824.8 367.6h1.7V511h-1.7zM828.5 343.7h1.7V511h-1.7zM829.4 484.0h1.7V511h-1.7zM831.2 478.1h1.7V511h-1.7zM832.2 469.0h1.7V511h-1.7zM833.1 425.2h1.7V511h-1.7zM834.0 463.5h1.7V511h-1.7zM834.9 434.5h1.7V511h-1.7zM835.8 350.7h1.7V511h-1.7zM836.8 451.7h1.7V511h-1.7zM837.7 488.6h1.7V511h-1.7zM839.5 425.6h1.7V511h-1.7zM840.4 467.9h1.7V511h-1.7zM841.3 453.3h1.7V511h-1.7zM843.2 447.6h1.7V511h-1.7zM844.1 379.8h1.7V511h-1.7zM845.0 457.3h1.7V511h-1.7zM847.8 440.5h1.7V511h-1.7zM848.7 473.1h1.7V511h-1.7zM849.6 384.0h1.7V511h-1.7zM851.4 347.7h1.7V511h-1.7zM852.4 439.3h1.7V511h-1.7zM853.3 457.2h1.7V511h-1.7zM856.9 476.8h1.7V511h-1.7zM857.9 461.1h1.7V511h-1.7zM858.8 408.4h1.7V511h-1.7zM859.7 446.0h1.7V511h-1.7zM860.6 418.5h1.7V511h-1.7zM861.5 449.3h1.7V511h-1.7zM862.5 371.1h1.7V511h-1.7zM863.4 491.0h1.7V511h-1.7zM864.3 459.7h1.7V511h-1.7zM865.2 468.9h1.7V511h-1.7zM866.1 446.5h1.7V511h-1.7zM867.0 471.8h1.7V511h-1.7zM868.0 379.5h1.7V511h-1.7zM868.9 385.9h1.7V511h-1.7zM869.8 428.9h1.7V511h-1.7zM870.7 419.6h1.7V511h-1.7zM872.6 408.6h1.7V511h-1.7zM874.4 425.7h1.7V511h-1.7zM875.3 449.4h1.7V511h-1.7zM876.2 485.7h1.7V511h-1.7zM877.1 459.0h1.7V511h-1.7zM878.1 408.5h1.7V511h-1.7zM879.0 414.2h1.7V511h-1.7zM879.9 490.6h1.7V511h-1.7zM881.7 467.6h1.7V511h-1.7zM882.7 472.4h1.7V511h-1.7zM884.5 491.9h1.7V511h-1.7zM886.3 454.0h1.7V511h-1.7zM888.2 463.2h1.7V511h-1.7zM889.1 437.5h1.7V511h-1.7zM890.0 437.7h1.7V511h-1.7zM890.9 470.9h1.7V511h-1.7zM891.8 468.9h1.7V511h-1.7zM892.8 449.1h1.7V511h-1.7zM893.7 450.3h1.7V511h-1.7zM894.6 478.4h1.7V511h-1.7zM895.5 483.7h1.7V511h-1.7zM896.4 445.3h1.7V511h-1.7zM897.3 460.9h1.7V511h-1.7zM899.2 438.7h1.7V511h-1.7zM900.1 452.7h1.7V511h-1.7zM901.0 422.4h1.7V511h-1.7zM901.9 445.8h1.7V511h-1.7zM902.9 434.4h1.7V511h-1.7zM904.7 486.5h1.7V511h-1.7zM906.5 473.6h1.7V511h-1.7zM908.4 480.4h1.7V511h-1.7zM909.3 411.2h1.7V511h-1.7zM912.0 410.6h1.7V511h-1.7zM912.9 472.0h1.7V511h-1.7zM913.9 478.9h1.7V511h-1.7zM917.5 389.4h1.7V511h-1.7zM918.5 392.1h1.7V511h-1.7zM919.4 450.5h1.7V511h-1.7zM920.3 472.2h1.7V511h-1.7zM921.2 462.8h1.7V511h-1.7zM922.1 406.2h1.7V511h-1.7zM923.0 461.4h1.7V511h-1.7zM924.0 409.3h1.7V511h-1.7zM924.9 483.0h1.7V511h-1.7zM925.8 465.8h1.7V511h-1.7zM926.7 459.0h1.7V511h-1.7zM927.6 434.0h1.7V511h-1.7zM928.6 386.9h1.7V511h-1.7zM930.4 482.4h1.7V511h-1.7zM932.2 448.2h1.7V511h-1.7zM934.1 386.3h1.7V511h-1.7zM935.0 450.8h1.7V511h-1.7zM936.8 461.7h1.7V511h-1.7zM937.7 472.3h1.7V511h-1.7zM938.7 450.2h1.7V511h-1.7zM939.6 437.8h1.7V511h-1.7zM940.5 471.6h1.7V511h-1.7zM941.4 474.9h1.7V511h-1.7zM942.3 424.1h1.7V511h-1.7zM943.2 468.9h1.7V511h-1.7zM944.2 473.1h1.7V511h-1.7zM945.1 467.7h1.7V511h-1.7zM946.0 426.7h1.7V511h-1.7zM947.8 487.9h1.7V511h-1.7zM948.8 452.5h1.7V511h-1.7zM949.7 470.7h1.7V511h-1.7zM950.6 460.2h1.7V511h-1.7zM951.5 478.1h1.7V511h-1.7zM952.4 457.8h1.7V511h-1.7zM953.3 438.4h1.7V511h-1.7zM954.3 448.9h1.7V511h-1.7zM955.2 475.9h1.7V511h-1.7zM957.0 462.3h1.7V511h-1.7zM959.8 417.2h1.7V511h-1.7zM961.6 434.7h1.7V511h-1.7zM964.4 453.9h1.7V511h-1.7zM968.0 439.5h1.7V511h-1.7zM970.8 489.7h1.7V511h-1.7zM971.7 472.5h1.7V511h-1.7zM973.5 474.4h1.7V511h-1.7zM975.4 501.9h1.7V511h-1.7zM976.3 460.2h1.7V511h-1.7zM977.2 460.9h1.7V511h-1.7zM978.1 482.9h1.7V511h-1.7zM979.0 485.2h1.7V511h-1.7zM982.7 470.0h1.7V511h-1.7zM983.6 500.1h1.7V511h-1.7zM984.6 490.9h1.7V511h-1.7zM985.5 494.6h1.7V511h-1.7zM990.1 500.1h1.7V511h-1.7zM991.0 475.5h1.7V511h-1.7zM991.9 488.9h1.7V511h-1.7zM992.8 487.6h1.7V511h-1.7zM993.7 444.6h1.7V511h-1.7zM995.6 492.6h1.7V511h-1.7zM996.5 496.1h1.7V511h-1.7zM998.3 496.1h1.7V511h-1.7zM1000.2 484.0h1.7V511h-1.7zM1001.1 486.7h1.7V511h-1.7zM1002.9 451.5h1.7V511h-1.7zM1004.8 451.0h1.7V511h-1.7zM1005.7 482.2h1.7V511h-1.7zM1006.6 490.1h1.7V511h-1.7zM1009.3 497.7h1.7V511h-1.7zM1010.3 464.0h1.7V511h-1.7zM1013.9 476.6h1.7V511h-1.7zM1014.9 489.2h1.7V511h-1.7zM1015.8 475.2h1.7V511h-1.7zM1016.7 490.0h1.7V511h-1.7zM1017.6 440.6h1.7V511h-1.7zM1018.5 467.3h1.7V511h-1.7zM1020.4 486.7h1.7V511h-1.7zM1021.3 479.1h1.7V511h-1.7zM1022.2 486.7h1.7V511h-1.7zM1023.1 433.3h1.7V511h-1.7zM1024.0 498.8h1.7V511h-1.7zM1028.6 473.7h1.7V511h-1.7zM1029.5 463.3h1.7V511h-1.7zM1030.5 475.8h1.7V511h-1.7zM1032.3 492.8h1.7V511h-1.7zM1035.0 478.5h1.7V511h-1.7zM1036.0 500.7h1.7V511h-1.7zM1036.9 500.3h1.7V511h-1.7zM1037.8 483.1h1.7V511h-1.7zM1038.7 499.2h1.7V511h-1.7zM1039.6 478.6h1.7V511h-1.7zM1040.6 494.8h1.7V511h-1.7zM1042.4 439.0h1.7V511h-1.7zM1045.1 473.4h1.7V511h-1.7zM1047.9 485.2h1.7V511h-1.7zM1048.8 484.7h1.7V511h-1.7zM1050.7 474.9h1.7V511h-1.7zM1052.5 499.3h1.7V511h-1.7zM1053.4 489.3h1.7V511h-1.7zM1054.3 492.3h1.7V511h-1.7zM1055.2 465.1h1.7V511h-1.7zM1057.1 455.2h1.7V511h-1.7zM1059.8 501.0h1.7V511h-1.7zM1063.5 496.5h1.7V511h-1.7zM1064.4 478.5h1.7V511h-1.7zM1067.2 494.7h1.7V511h-1.7zM1072.7 472.8h1.7V511h-1.7zM1073.6 498.8h1.7V511h-1.7zM1074.5 466.9h1.7V511h-1.7zM1076.4 492.0h1.7V511h-1.7zM1078.2 498.1h1.7V511h-1.7zM1079.1 484.2h1.7V511h-1.7zM1080.0 486.5h1.7V511h-1.7zM1081.0 490.4h1.7V511h-1.7zM1093.8 506.2h1.7V511h-1.7zM1095.6 469.1h1.7V511h-1.7zM1097.5 496.0h1.7V511h-1.7zM1098.4 497.8h1.7V511h-1.7zM1100.2 502.4h1.7V511h-1.7zM1102.1 497.5h1.7V511h-1.7zM1103.0 497.2h1.7V511h-1.7zM1103.9 500.6h1.7V511h-1.7zM1105.7 498.4h1.7V511h-1.7zM1106.7 495.7h1.7V511h-1.7zM1107.6 496.7h1.7V511h-1.7zM1110.3 475.3h1.7V511h-1.7zM1112.2 495.5h1.7V511h-1.7zM1113.1 499.8h1.7V511h-1.7zM1114.0 499.5h1.7V511h-1.7zM1117.7 483.5h1.7V511h-1.7zM1118.6 499.1h1.7V511h-1.7zM1124.1 494.6h1.7V511h-1.7zM1125.9 496.0h1.7V511h-1.7zM1126.9 505.7h1.7V511h-1.7zM1127.8 493.0h1.7V511h-1.7zM1133.3 501.4h1.7V511h-1.7zM1135.1 488.1h1.7V511h-1.7zM1136.0 498.4h1.7V511h-1.7zM1137.0 489.4h1.7V511h-1.7zM1137.9 503.9h1.7V511h-1.7zM1139.7 476.7h1.7V511h-1.7zM1140.6 500.3h1.7V511h-1.7zM1141.5 499.6h1.7V511h-1.7zM1142.5 504.3h1.7V511h-1.7zM1143.4 504.0h1.7V511h-1.7zM1145.2 504.7h1.7V511h-1.7zM1146.1 502.4h1.7V511h-1.7zM1148.9 503.9h1.7V511h-1.7zM1150.7 485.2h1.7V511h-1.7zM1151.6 493.4h1.7V511h-1.7zM1152.6 500.1h1.7V511h-1.7zM1153.5 504.8h1.7V511h-1.7zM1154.4 503.5h1.7V511h-1.7zM1158.1 501.3h1.7V511h-1.7zM1160.8 501.3h1.7V511h-1.7zM1161.7 501.7h1.7V511h-1.7zM1162.7 504.9h1.7V511h-1.7zM1165.4 501.7h1.7V511h-1.7zM1167.2 507.2h1.7V511h-1.7zM1254.5 502.7h1.7V511h-1.7zM1256.3 504.5h1.7V511h-1.7zM1260.0 491.7h1.7V511h-1.7zM1262.7 504.9h1.7V511h-1.7zM1263.6 505.0h1.7V511h-1.7zM1265.5 498.2h1.7V511h-1.7zM1266.4 506.4h1.7V511h-1.7zM1269.2 502.4h1.7V511h-1.7zM1270.1 506.0h1.7V511h-1.7zM1271.0 503.0h1.7V511h-1.7zM1271.9 498.6h1.7V511h-1.7zM1274.7 501.3h1.7V511h-1.7zM1275.6 503.5h1.7V511h-1.7zM1277.4 491.8h1.7V511h-1.7zM1280.2 508.0h1.7V511h-1.7zM1282.0 508.0h1.7V511h-1.7zM1285.7 503.6h1.7V511h-1.7zM1286.6 498.3h1.7V511h-1.7zM1287.5 502.8h1.7V511h-1.7zM1293.9 508.1h1.7V511h-1.7zM1294.9 507.5h1.7V511h-1.7zM1296.7 497.3h1.7V511h-1.7zM1299.4 502.5h1.7V511h-1.7zM1303.1 507.7h1.7V511h-1.7zM1306.8 506.5h1.7V511h-1.7zM1307.7 501.5h1.7V511h-1.7zM1308.6 499.5h1.7V511h-1.7zM1315.1 507.9h1.7V511h-1.7zM1316.0 505.7h1.7V511h-1.7zM1318.7 506.1h1.7V511h-1.7zM1320.6 504.8h1.7V511h-1.7zM1321.5 508.2h1.7V511h-1.7zM1322.4 502.0h1.7V511h-1.7zM1324.2 508.9h1.7V511h-1.7zM1325.2 507.3h1.7V511h-1.7zM1327.0 500.6h1.7V511h-1.7zM1327.9 498.8h1.7V511h-1.7zM1328.8 505.5h1.7V511h-1.7zM1330.7 508.8h1.7V511h-1.7zM1332.5 505.1h1.7V511h-1.7zM1333.4 496.8h1.7V511h-1.7zM617.1 367.6h1.7V511h-1.7zM645.8 303.3h1.7V511h-1.7zM662.2 334.7h1.7V511h-1.7zM664.7 374.3h1.7V511h-1.7zM668.0 337.2h1.7V511h-1.7zM669.5 311.0h1.7V511h-1.7zM672.6 344.5h1.7V511h-1.7zM680.5 376.5h1.7V511h-1.7zM690.9 386.5h1.7V511h-1.7zM740.9 476.0h1.7V511h-1.7zM775.0 334.3h1.7V511h-1.7zM786.8 225.1h1.7V511h-1.7zM831.3 325.4h1.7V511h-1.7zM834.7 327.3h1.7V511h-1.7zM840.0 317.9h1.7V511h-1.7zM858.3 292.3h1.7V511h-1.7zM927.4 332.0h1.7V511h-1.7zM943.4 324.0h1.7V511h-1.7zM975.0 291.3h1.7V511h-1.7zM1019.6 402.0h1.7V511h-1.7zM1034.0 385.4h1.7V511h-1.7z"/><path fill="#8cd5d9" d="M130.6 497.4h1.7V511h-1.7zM143.4 502.9h1.7V511h-1.7zM145.2 496.3h1.7V511h-1.7zM147.1 493.3h1.7V511h-1.7zM148.9 506.2h1.7V511h-1.7zM149.8 500.2h1.7V511h-1.7zM153.5 500.3h1.7V511h-1.7zM159.0 486.0h1.7V511h-1.7zM159.9 509.4h1.7V511h-1.7zM160.9 499.0h1.7V511h-1.7zM164.5 495.3h1.7V511h-1.7zM167.3 506.4h1.7V511h-1.7zM169.1 502.5h1.7V511h-1.7zM172.8 508.5h1.7V511h-1.7zM177.4 503.8h1.7V511h-1.7zM179.2 507.5h1.7V511h-1.7zM180.1 498.5h1.7V511h-1.7zM192.1 506.0h1.7V511h-1.7zM193.9 492.7h1.7V511h-1.7zM194.8 499.0h1.7V511h-1.7zM195.7 484.4h1.7V511h-1.7zM198.5 505.7h1.7V511h-1.7zM200.3 494.0h1.7V511h-1.7zM202.2 501.5h1.7V511h-1.7zM203.1 495.8h1.7V511h-1.7zM204.0 505.6h1.7V511h-1.7zM205.8 501.8h1.7V511h-1.7zM207.7 504.3h1.7V511h-1.7zM208.6 499.1h1.7V511h-1.7zM210.4 502.6h1.7V511h-1.7zM211.3 509.1h1.7V511h-1.7zM217.8 504.3h1.7V511h-1.7zM220.5 502.0h1.7V511h-1.7zM225.1 504.1h1.7V511h-1.7zM229.7 503.8h1.7V511h-1.7zM232.5 500.2h1.7V511h-1.7zM234.3 498.6h1.7V511h-1.7zM238.0 500.4h1.7V511h-1.7zM241.6 499.9h1.7V511h-1.7zM242.6 504.8h1.7V511h-1.7zM244.4 505.1h1.7V511h-1.7zM245.3 504.2h1.7V511h-1.7zM247.1 505.8h1.7V511h-1.7zM248.1 505.1h1.7V511h-1.7zM251.7 500.6h1.7V511h-1.7zM252.7 505.6h1.7V511h-1.7zM258.2 509.5h1.7V511h-1.7zM259.1 504.6h1.7V511h-1.7zM260.0 481.6h1.7V511h-1.7zM261.8 502.7h1.7V511h-1.7zM265.5 503.1h1.7V511h-1.7zM267.3 490.2h1.7V511h-1.7zM270.1 498.8h1.7V511h-1.7zM273.8 503.1h1.7V511h-1.7zM274.7 509.4h1.7V511h-1.7zM277.4 508.1h1.7V511h-1.7zM280.2 508.4h1.7V511h-1.7zM282.0 509.6h1.7V511h-1.7zM284.8 503.8h1.7V511h-1.7zM287.5 484.4h1.7V511h-1.7zM288.5 500.6h1.7V511h-1.7zM289.4 498.7h1.7V511h-1.7zM293.1 498.2h1.7V511h-1.7zM295.8 503.6h1.7V511h-1.7zM296.7 509.2h1.7V511h-1.7zM298.6 503.6h1.7V511h-1.7zM301.3 503.9h1.7V511h-1.7zM303.1 505.1h1.7V511h-1.7zM305.9 507.3h1.7V511h-1.7zM309.6 501.3h1.7V511h-1.7zM316.0 507.6h1.7V511h-1.7zM316.9 495.0h1.7V511h-1.7zM317.8 490.9h1.7V511h-1.7zM318.8 499.7h1.7V511h-1.7zM319.7 499.3h1.7V511h-1.7zM324.3 495.7h1.7V511h-1.7zM325.2 503.5h1.7V511h-1.7zM326.1 504.1h1.7V511h-1.7zM327.0 508.7h1.7V511h-1.7zM327.9 507.1h1.7V511h-1.7zM329.8 505.7h1.7V511h-1.7zM332.5 509.1h1.7V511h-1.7zM333.4 502.8h1.7V511h-1.7zM336.2 506.9h1.7V511h-1.7zM338.0 503.6h1.7V511h-1.7zM339.0 501.9h1.7V511h-1.7zM347.2 504.6h1.7V511h-1.7zM466.6 503.4h1.7V511h-1.7zM468.4 467.8h1.7V511h-1.7zM469.3 470.3h1.7V511h-1.7zM471.2 496.1h1.7V511h-1.7zM473.0 492.8h1.7V511h-1.7zM473.9 494.7h1.7V511h-1.7zM474.8 482.3h1.7V511h-1.7zM476.7 495.8h1.7V511h-1.7zM477.6 504.0h1.7V511h-1.7zM478.5 498.9h1.7V511h-1.7zM479.4 500.3h1.7V511h-1.7zM480.3 494.9h1.7V511h-1.7zM483.1 481.2h1.7V511h-1.7zM485.8 500.2h1.7V511h-1.7zM489.5 493.6h1.7V511h-1.7zM495.9 491.5h1.7V511h-1.7zM497.8 491.8h1.7V511h-1.7zM500.5 486.1h1.7V511h-1.7zM502.4 487.5h1.7V511h-1.7zM503.3 494.3h1.7V511h-1.7zM504.2 500.5h1.7V511h-1.7zM505.1 501.6h1.7V511h-1.7zM508.8 491.0h1.7V511h-1.7zM510.6 495.0h1.7V511h-1.7zM512.5 504.2h1.7V511h-1.7zM513.4 489.4h1.7V511h-1.7zM514.3 484.5h1.7V511h-1.7zM523.5 475.8h1.7V511h-1.7zM525.3 499.4h1.7V511h-1.7zM531.7 500.5h1.7V511h-1.7zM533.6 503.1h1.7V511h-1.7zM534.5 485.2h1.7V511h-1.7zM538.2 496.9h1.7V511h-1.7zM539.1 502.7h1.7V511h-1.7zM540.9 500.2h1.7V511h-1.7zM544.6 466.3h1.7V511h-1.7zM545.5 483.8h1.7V511h-1.7zM546.4 495.4h1.7V511h-1.7zM549.2 480.9h1.7V511h-1.7zM550.1 496.1h1.7V511h-1.7zM551.0 483.1h1.7V511h-1.7zM555.6 490.6h1.7V511h-1.7zM558.4 503.9h1.7V511h-1.7zM560.2 505.7h1.7V511h-1.7zM561.1 488.5h1.7V511h-1.7zM562.0 454.6h1.7V511h-1.7zM565.7 494.9h1.7V511h-1.7zM568.5 468.9h1.7V511h-1.7zM572.1 489.3h1.7V511h-1.7zM574.9 499.7h1.7V511h-1.7zM580.4 467.1h1.7V511h-1.7zM581.3 475.7h1.7V511h-1.7zM583.2 491.7h1.7V511h-1.7zM584.1 412.1h1.7V511h-1.7zM585.0 496.1h1.7V511h-1.7zM587.7 489.0h1.7V511h-1.7zM591.4 452.0h1.7V511h-1.7zM593.3 473.7h1.7V511h-1.7zM596.9 485.5h1.7V511h-1.7zM597.8 493.3h1.7V511h-1.7zM599.7 497.5h1.7V511h-1.7zM602.4 445.6h1.7V511h-1.7zM603.4 448.5h1.7V511h-1.7zM604.3 477.4h1.7V511h-1.7zM605.2 481.3h1.7V511h-1.7zM607.0 471.3h1.7V511h-1.7zM607.9 464.9h1.7V511h-1.7zM608.9 489.4h1.7V511h-1.7zM609.8 495.2h1.7V511h-1.7zM610.7 485.7h1.7V511h-1.7zM611.6 470.9h1.7V511h-1.7zM614.4 476.2h1.7V511h-1.7zM616.2 476.2h1.7V511h-1.7zM618.0 462.6h1.7V511h-1.7zM619.0 489.8h1.7V511h-1.7zM622.6 483.3h1.7V511h-1.7zM623.5 456.0h1.7V511h-1.7zM624.5 462.3h1.7V511h-1.7zM625.4 486.6h1.7V511h-1.7zM627.2 471.9h1.7V511h-1.7zM630.9 493.6h1.7V511h-1.7zM631.8 451.9h1.7V511h-1.7zM634.6 413.5h1.7V511h-1.7zM636.4 480.3h1.7V511h-1.7zM637.3 472.7h1.7V511h-1.7zM639.2 401.8h1.7V511h-1.7zM640.1 485.2h1.7V511h-1.7zM641.0 459.0h1.7V511h-1.7zM641.9 409.6h1.7V511h-1.7zM643.7 481.0h1.7V511h-1.7zM646.5 492.6h1.7V511h-1.7zM648.3 386.9h1.7V511h-1.7zM650.2 495.2h1.7V511h-1.7zM651.1 459.7h1.7V511h-1.7zM652.0 405.7h1.7V511h-1.7zM654.8 491.2h1.7V511h-1.7zM657.5 474.9h1.7V511h-1.7zM658.4 399.8h1.7V511h-1.7zM661.2 434.1h1.7V511h-1.7zM662.1 439.6h1.7V511h-1.7zM663.0 452.9h1.7V511h-1.7zM663.9 459.1h1.7V511h-1.7zM664.9 417.4h1.7V511h-1.7zM667.6 442.8h1.7V511h-1.7zM669.5 435.3h1.7V511h-1.7zM670.4 450.9h1.7V511h-1.7zM671.3 473.5h1.7V511h-1.7zM672.2 470.6h1.7V511h-1.7zM674.0 477.5h1.7V511h-1.7zM675.0 379.8h1.7V511h-1.7zM675.9 438.7h1.7V511h-1.7zM679.5 422.9h1.7V511h-1.7zM680.5 476.6h1.7V511h-1.7zM685.1 481.3h1.7V511h-1.7zM689.6 437.7h1.7V511h-1.7zM691.5 463.8h1.7V511h-1.7zM694.2 432.8h1.7V511h-1.7zM695.2 496.0h1.7V511h-1.7zM696.1 486.5h1.7V511h-1.7zM754.8 455.6h1.7V511h-1.7zM755.7 450.4h1.7V511h-1.7zM756.7 479.6h1.7V511h-1.7zM757.6 493.9h1.7V511h-1.7zM758.5 464.0h1.7V511h-1.7zM761.3 472.5h1.7V511h-1.7zM762.2 477.2h1.7V511h-1.7zM764.0 434.4h1.7V511h-1.7zM765.8 451.7h1.7V511h-1.7zM766.8 370.6h1.7V511h-1.7zM767.7 478.7h1.7V511h-1.7zM768.6 484.2h1.7V511h-1.7zM771.4 425.5h1.7V511h-1.7zM772.3 443.0h1.7V511h-1.7zM774.1 474.7h1.7V511h-1.7zM775.0 425.2h1.7V511h-1.7zM780.5 458.9h1.7V511h-1.7zM781.5 445.5h1.7V511h-1.7zM782.4 457.0h1.7V511h-1.7zM783.3 398.5h1.7V511h-1.7zM785.1 477.2h1.7V511h-1.7zM786.0 425.1h1.7V511h-1.7zM788.8 459.4h1.7V511h-1.7zM789.7 408.0h1.7V511h-1.7zM790.6 426.9h1.7V511h-1.7zM791.5 462.9h1.7V511h-1.7zM792.5 438.7h1.7V511h-1.7zM795.2 478.7h1.7V511h-1.7zM797.1 398.5h1.7V511h-1.7zM803.5 485.0h1.7V511h-1.7zM804.4 480.0h1.7V511h-1.7zM805.3 408.1h1.7V511h-1.7zM806.2 394.0h1.7V511h-1.7zM809.0 460.7h1.7V511h-1.7zM810.8 444.1h1.7V511h-1.7zM811.7 393.4h1.7V511h-1.7zM812.7 411.6h1.7V511h-1.7zM813.6 410.2h1.7V511h-1.7zM814.5 358.5h1.7V511h-1.7zM818.2 467.4h1.7V511h-1.7zM821.8 470.8h1.7V511h-1.7zM822.8 436.6h1.7V511h-1.7zM827.4 367.3h1.7V511h-1.7zM828.3 431.4h1.7V511h-1.7zM829.2 460.5h1.7V511h-1.7zM830.1 393.3h1.7V511h-1.7zM831.0 371.5h1.7V511h-1.7zM831.9 362.9h1.7V511h-1.7zM832.9 409.2h1.7V511h-1.7zM833.8 466.1h1.7V511h-1.7zM834.7 451.6h1.7V511h-1.7zM836.5 494.2h1.7V511h-1.7zM837.5 419.0h1.7V511h-1.7zM840.2 482.5h1.7V511h-1.7zM841.1 446.6h1.7V511h-1.7zM842.0 400.1h1.7V511h-1.7zM843.0 427.6h1.7V511h-1.7zM843.9 444.3h1.7V511h-1.7zM845.7 495.1h1.7V511h-1.7zM846.6 418.0h1.7V511h-1.7zM847.6 431.9h1.7V511h-1.7zM848.5 458.5h1.7V511h-1.7zM849.4 443.0h1.7V511h-1.7zM850.3 486.4h1.7V511h-1.7zM852.1 431.2h1.7V511h-1.7zM853.1 414.9h1.7V511h-1.7zM854.0 433.2h1.7V511h-1.7zM854.9 412.0h1.7V511h-1.7zM855.8 402.5h1.7V511h-1.7zM856.7 407.3h1.7V511h-1.7zM857.6 451.8h1.7V511h-1.7zM859.5 496.1h1.7V511h-1.7zM860.4 478.1h1.7V511h-1.7zM862.2 351.7h1.7V511h-1.7zM863.2 446.1h1.7V511h-1.7zM864.1 423.4h1.7V511h-1.7zM866.8 417.6h1.7V511h-1.7zM868.7 401.2h1.7V511h-1.7zM869.6 431.1h1.7V511h-1.7zM870.5 485.4h1.7V511h-1.7zM872.3 408.0h1.7V511h-1.7zM873.3 486.9h1.7V511h-1.7zM874.2 401.4h1.7V511h-1.7zM876.9 420.3h1.7V511h-1.7zM877.8 430.5h1.7V511h-1.7zM878.8 445.3h1.7V511h-1.7zM879.7 433.6h1.7V511h-1.7zM880.6 426.5h1.7V511h-1.7zM881.5 409.6h1.7V511h-1.7zM882.4 432.0h1.7V511h-1.7zM885.2 460.4h1.7V511h-1.7zM886.1 484.3h1.7V511h-1.7zM887.0 401.7h1.7V511h-1.7zM887.9 479.4h1.7V511h-1.7zM888.9 469.7h1.7V511h-1.7zM889.8 488.6h1.7V511h-1.7zM892.5 470.0h1.7V511h-1.7zM893.5 477.3h1.7V511h-1.7zM896.2 393.1h1.7V511h-1.7zM897.1 423.1h1.7V511h-1.7zM898.0 441.2h1.7V511h-1.7zM899.0 489.9h1.7V511h-1.7zM900.8 454.3h1.7V511h-1.7zM902.6 483.6h1.7V511h-1.7zM903.6 484.3h1.7V511h-1.7zM904.5 435.9h1.7V511h-1.7zM905.4 493.5h1.7V511h-1.7zM910.0 472.0h1.7V511h-1.7zM910.9 484.9h1.7V511h-1.7zM912.7 368.6h1.7V511h-1.7zM913.6 486.8h1.7V511h-1.7zM915.5 471.1h1.7V511h-1.7zM916.4 455.3h1.7V511h-1.7zM917.3 480.7h1.7V511h-1.7zM919.2 437.5h1.7V511h-1.7zM921.0 480.4h1.7V511h-1.7zM921.9 467.9h1.7V511h-1.7zM924.7 440.6h1.7V511h-1.7zM925.6 436.6h1.7V511h-1.7zM926.5 434.0h1.7V511h-1.7zM929.3 391.6h1.7V511h-1.7zM931.1 410.9h1.7V511h-1.7zM932.0 431.2h1.7V511h-1.7zM933.8 470.2h1.7V511h-1.7zM935.7 439.7h1.7V511h-1.7zM938.4 477.2h1.7V511h-1.7zM940.3 447.3h1.7V511h-1.7zM943.9 362.7h1.7V511h-1.7zM944.9 463.2h1.7V511h-1.7zM945.8 474.8h1.7V511h-1.7zM947.6 448.9h1.7V511h-1.7zM949.5 475.3h1.7V511h-1.7zM952.2 493.9h1.7V511h-1.7zM955.0 447.8h1.7V511h-1.7zM958.6 468.7h1.7V511h-1.7zM963.2 449.1h1.7V511h-1.7zM964.1 469.4h1.7V511h-1.7zM965.1 423.3h1.7V511h-1.7zM966.0 483.8h1.7V511h-1.7zM967.8 413.8h1.7V511h-1.7zM969.7 471.2h1.7V511h-1.7zM970.6 485.3h1.7V511h-1.7zM972.4 397.3h1.7V511h-1.7zM973.3 470.6h1.7V511h-1.7zM974.2 434.8h1.7V511h-1.7zM976.1 468.2h1.7V511h-1.7zM977.0 480.3h1.7V511h-1.7zM977.9 483.8h1.7V511h-1.7zM978.8 487.3h1.7V511h-1.7zM981.6 474.8h1.7V511h-1.7zM984.3 401.3h1.7V511h-1.7zM985.3 484.8h1.7V511h-1.7zM988.0 478.1h1.7V511h-1.7zM990.8 477.0h1.7V511h-1.7zM991.7 464.6h1.7V511h-1.7zM992.6 482.4h1.7V511h-1.7zM995.4 485.2h1.7V511h-1.7zM997.2 405.7h1.7V511h-1.7zM998.1 485.3h1.7V511h-1.7zM999.0 474.4h1.7V511h-1.7zM1001.8 497.9h1.7V511h-1.7zM1002.7 496.3h1.7V511h-1.7zM1003.6 490.8h1.7V511h-1.7zM1004.5 480.1h1.7V511h-1.7zM1007.3 497.3h1.7V511h-1.7zM1010.0 438.8h1.7V511h-1.7zM1011.0 476.2h1.7V511h-1.7zM1012.8 467.1h1.7V511h-1.7zM1013.7 479.5h1.7V511h-1.7zM1015.6 489.7h1.7V511h-1.7zM1017.4 478.5h1.7V511h-1.7zM1019.2 489.6h1.7V511h-1.7zM1022.9 468.6h1.7V511h-1.7zM1023.8 469.9h1.7V511h-1.7zM1026.6 490.4h1.7V511h-1.7zM1030.2 473.3h1.7V511h-1.7zM1032.1 478.8h1.7V511h-1.7zM1033.0 483.8h1.7V511h-1.7zM1034.8 468.2h1.7V511h-1.7zM1035.8 450.7h1.7V511h-1.7zM1036.7 462.7h1.7V511h-1.7zM1037.6 500.3h1.7V511h-1.7zM1038.5 460.1h1.7V511h-1.7zM1040.3 485.9h1.7V511h-1.7zM1041.3 500.2h1.7V511h-1.7zM1042.2 451.5h1.7V511h-1.7zM1043.1 471.9h1.7V511h-1.7zM1044.9 448.1h1.7V511h-1.7zM1047.7 485.6h1.7V511h-1.7zM1053.2 497.5h1.7V511h-1.7zM1055.0 494.2h1.7V511h-1.7zM1055.9 492.1h1.7V511h-1.7zM1056.9 504.7h1.7V511h-1.7zM1058.7 484.3h1.7V511h-1.7zM1062.4 500.1h1.7V511h-1.7zM1063.3 485.5h1.7V511h-1.7zM1065.1 507.3h1.7V511h-1.7zM1067.9 491.5h1.7V511h-1.7zM1068.8 490.4h1.7V511h-1.7zM1070.6 499.4h1.7V511h-1.7zM1071.6 499.6h1.7V511h-1.7zM1074.3 495.3h1.7V511h-1.7zM1075.2 499.5h1.7V511h-1.7zM1076.1 504.2h1.7V511h-1.7zM1077.1 472.6h1.7V511h-1.7zM1078.9 493.7h1.7V511h-1.7zM1082.6 500.2h1.7V511h-1.7zM1095.4 506.0h1.7V511h-1.7zM1097.3 496.7h1.7V511h-1.7zM1100.0 499.7h1.7V511h-1.7zM1100.9 502.1h1.7V511h-1.7zM1101.8 505.5h1.7V511h-1.7zM1102.8 489.2h1.7V511h-1.7zM1104.6 502.0h1.7V511h-1.7zM1105.5 497.5h1.7V511h-1.7zM1111.0 500.5h1.7V511h-1.7zM1111.9 462.3h1.7V511h-1.7zM1112.9 482.1h1.7V511h-1.7zM1113.8 503.2h1.7V511h-1.7zM1114.7 505.4h1.7V511h-1.7zM1117.5 497.5h1.7V511h-1.7zM1118.4 488.0h1.7V511h-1.7zM1120.2 492.6h1.7V511h-1.7zM1123.0 487.2h1.7V511h-1.7zM1123.9 503.5h1.7V511h-1.7zM1124.8 488.9h1.7V511h-1.7zM1125.7 505.4h1.7V511h-1.7zM1126.6 473.3h1.7V511h-1.7zM1130.3 489.3h1.7V511h-1.7zM1131.2 491.0h1.7V511h-1.7zM1134.0 503.3h1.7V511h-1.7zM1135.8 503.6h1.7V511h-1.7zM1138.6 506.5h1.7V511h-1.7zM1140.4 501.9h1.7V511h-1.7zM1143.2 497.7h1.7V511h-1.7zM1144.1 493.8h1.7V511h-1.7zM1154.2 502.8h1.7V511h-1.7zM1155.1 498.2h1.7V511h-1.7zM1161.5 503.1h1.7V511h-1.7zM1164.3 501.4h1.7V511h-1.7zM1166.1 503.0h1.7V511h-1.7zM1167.9 499.4h1.7V511h-1.7zM1168.9 509.7h1.7V511h-1.7zM1254.2 502.4h1.7V511h-1.7zM1256.1 502.3h1.7V511h-1.7zM1259.8 508.9h1.7V511h-1.7zM1260.7 506.7h1.7V511h-1.7zM1261.6 498.2h1.7V511h-1.7zM1262.5 503.3h1.7V511h-1.7zM1263.4 506.2h1.7V511h-1.7zM1264.3 505.2h1.7V511h-1.7zM1265.3 502.9h1.7V511h-1.7zM1266.2 505.6h1.7V511h-1.7zM1269.9 489.3h1.7V511h-1.7zM1272.6 509.2h1.7V511h-1.7zM1273.5 502.2h1.7V511h-1.7zM1275.4 509.0h1.7V511h-1.7zM1276.3 504.9h1.7V511h-1.7zM1280.0 507.4h1.7V511h-1.7zM1284.5 508.2h1.7V511h-1.7zM1286.4 496.1h1.7V511h-1.7zM1287.3 503.4h1.7V511h-1.7zM1288.2 509.8h1.7V511h-1.7zM1290.0 502.2h1.7V511h-1.7zM1292.8 507.6h1.7V511h-1.7zM1293.7 503.2h1.7V511h-1.7zM1296.5 505.0h1.7V511h-1.7zM1299.2 506.8h1.7V511h-1.7zM1301.1 508.6h1.7V511h-1.7zM1302.0 501.3h1.7V511h-1.7zM1303.8 509.7h1.7V511h-1.7zM1305.7 506.1h1.7V511h-1.7zM1308.4 508.1h1.7V511h-1.7zM1309.3 507.6h1.7V511h-1.7zM1310.2 506.2h1.7V511h-1.7zM1312.1 500.5h1.7V511h-1.7zM1313.9 503.0h1.7V511h-1.7zM1315.8 508.6h1.7V511h-1.7zM1316.7 504.5h1.7V511h-1.7zM1323.1 508.8h1.7V511h-1.7zM1328.6 508.4h1.7V511h-1.7zM1331.4 508.5h1.7V511h-1.7zM1334.1 503.5h1.7V511h-1.7zM599.4 389.6h1.7V511h-1.7zM602.8 383.5h1.7V511h-1.7zM636.0 380.4h1.7V511h-1.7zM642.4 358.2h1.7V511h-1.7zM646.5 368.2h1.7V511h-1.7zM656.1 299.7h1.7V511h-1.7zM659.2 237.8h1.7V511h-1.7zM670.2 296.6h1.7V511h-1.7zM687.2 350.9h1.7V511h-1.7zM772.0 237.5h1.7V511h-1.7zM773.3 309.3h1.7V511h-1.7zM818.5 337.5h1.7V511h-1.7zM832.0 220.0h1.7V511h-1.7zM848.6 299.3h1.7V511h-1.7zM860.8 301.2h1.7V511h-1.7zM861.5 219.2h1.7V511h-1.7zM867.7 342.3h1.7V511h-1.7zM886.3 205.0h1.7V511h-1.7zM897.8 367.0h1.7V511h-1.7zM928.1 324.0h1.7V511h-1.7zM944.1 289.6h1.7V511h-1.7zM955.9 303.1h1.7V511h-1.7zM961.8 334.8h1.7V511h-1.7zM978.5 229.1h1.7V511h-1.7zM987.1 331.3h1.7V511h-1.7zM989.2 387.0h1.7V511h-1.7zM1001.3 417.6h1.7V511h-1.7zM1020.3 389.9h1.7V511h-1.7zM1037.0 331.5h1.7V511h-1.7zM1040.4 420.6h1.7V511h-1.7zM1046.1 413.8h1.7V511h-1.7zM1013.9 430.9h1.7V511h-1.7zM1058.2 433.5h1.7V511h-1.7z"/>
<path fill="#f23645" fill-opacity="0.1" d="M120,511 L120.0,359.9 L134.9,359.9 L152.3,361.2 L169.7,362.7 L189.6,364.4 L214.4,365.4 L234.3,366.7 L249.2,368.1 L269.1,370.4 L289.0,370.9 L313.8,371.9 L333.7,372.9 L343.6,373.9 L462.9,373.9 L472.8,374.4 L480.0,375.0 L490.9,377.7 L507.2,382.3 L518.1,385.1 L529.0,388.6 L545.4,391.3 L561.7,394.9 L578.1,398.1 L586.2,402.2 L594.4,407.7 L602.6,414.5 L610.8,421.3 L618.9,426.7 L628.5,430.3 L636.6,436.3 L643.4,443.1 L654.3,454.0 L662.5,467.6 L674.8,481.2 L687.0,493.5 L695.2,505.7 L699.3,509.3 L708.5,509.3 L708.5,511 Z"/>
<path fill="#24aa91" fill-opacity="0.09" d="M711,511 L711.0,509.0 L755.4,509.0 L766.2,504.9 L775.5,494.1 L787.8,480.2 L795.5,475.6 L804.7,463.3 L812.4,454.0 L821.7,446.3 L830.9,437.1 L840.2,427.8 L849.4,417.0 L858.7,406.3 L864.8,392.4 L874.1,373.9 L883.3,367.7 L889.5,358.5 L898.7,349.2 L908.6,340.4 L921.5,334.7 L927.2,330.4 L934.4,318.9 L943.0,306.0 L954.4,291.7 L965.9,280.2 L975.9,273.9 L981.7,264.5 L991.7,257.3 L1008.9,250.1 L1023.2,243.0 L1036.1,238.7 L1040.0,235.1 L1048.2,229.3 L1056.4,225.8 L1064.6,222.2 L1074.8,219.7 L1085.1,218.9 L1097.4,218.7 L1107.6,217.7 L1121.9,215.2 L1138.3,212.5 L1150.6,211.1 L1158.8,209.9 L1167.0,209.0 L1259.2,209.0 L1275.6,208.0 L1296.0,206.4 L1322.7,204.7 L1341.0,204.3 L1341,511 Z"/>
<polyline fill="none" stroke="#f23645" stroke-width="3.8" stroke-linejoin="round" points="120.0,359.9 134.9,359.9 152.3,361.2 169.7,362.7 189.6,364.4 214.4,365.4 234.3,366.7 249.2,368.1 269.1,370.4 289.0,370.9 313.8,371.9 333.7,372.9 343.6,373.9 462.9,373.9 472.8,374.4 480.0,375.0 490.9,377.7 507.2,382.3 518.1,385.1 529.0,388.6 545.4,391.3 561.7,394.9 578.1,398.1 586.2,402.2 594.4,407.7 602.6,414.5 610.8,421.3 618.9,426.7 628.5,430.3 636.6,436.3 643.4,443.1 654.3,454.0 662.5,467.6 674.8,481.2 687.0,493.5 695.2,505.7 699.3,509.3 708.5,509.3"/>
<polyline fill="none" stroke="#24aa91" stroke-width="3.8" stroke-linejoin="round" points="711.0,509.0 755.4,509.0 766.2,504.9 775.5,494.1 787.8,480.2 795.5,475.6 804.7,463.3 812.4,454.0 821.7,446.3 830.9,437.1 840.2,427.8 849.4,417.0 858.7,406.3 864.8,392.4 874.1,373.9 883.3,367.7 889.5,358.5 898.7,349.2 908.6,340.4 921.5,334.7 927.2,330.4 934.4,318.9 943.0,306.0 954.4,291.7 965.9,280.2 975.9,273.9 981.7,264.5 991.7,257.3 1008.9,250.1 1023.2,243.0 1036.1,238.7 1040.0,235.1 1048.2,229.3 1056.4,225.8 1064.6,222.2 1074.8,219.7 1085.1,218.9 1097.4,218.7 1107.6,217.7 1121.9,215.2 1138.3,212.5 1150.6,211.1 1158.8,209.9 1167.0,209.0 1259.2,209.0 1275.6,208.0 1296.0,206.4 1322.7,204.7 1341.0,204.3"/>
<line x1="710.8" x2="710.8" y1="206" y2="511" stroke="#f0202e" stroke-width="4" stroke-dasharray="16 8"/>
<path d="M710.1,174.5 L720.6,205.6 L710.1,198.3 L699.4,205.6 Z" fill="#f0202e"/>
<path d="M1146,433 C1147,432 1148,433 1148.5,435 C1153,433.5 1159,433.5 1163.5,435 C1164,433 1165.5,432 1166.5,433 C1167.5,434 1168,436 1168,438 C1172,440 1177,442 1178.5,446.5 C1176,447 1173.5,447 1172.5,447.5 C1173,452 1171,457 1168,460 C1166,461.5 1165,462.5 1167,464 C1171,465.5 1172.5,469 1170.5,472.5 C1168.5,474 1166.5,474.5 1166,476 L1165.5,482 L1145.5,482 L1145.2,476 C1143,474.5 1141,472.5 1142,469 C1143,466 1145,465 1146,464 C1147,462.5 1146,461.5 1144,460 C1140.5,457 1139,452 1139.5,447.5 C1138,447 1135,447 1133.5,446.5 C1135,442 1140,440 1144,438 C1144,436 1145,434 1146,433 Z" fill="#acacac" fill-opacity="0.72"/><path d="M1146,479 C1143,479.5 1141.5,480.5 1140.5,482" fill="none" stroke="#acacac" stroke-opacity="0.72" stroke-width="1.4" stroke-linecap="round"/>
<text x="1189.5" y="469" font-weight="bold" font-size="31" fill="#acacac" fill-opacity="0.72" textLength="143.5" lengthAdjust="spacingAndGlyphs" transform="translate(0,469) scale(1,1.14) translate(0,-469)">coinglass</text>
<text x="104.2" y="182.0" font-size="24.7" fill="#000" text-anchor="end" textLength="64.7" lengthAdjust="spacingAndGlyphs" stroke="#000" stroke-width="0.35">4.73M</text><text x="104.2" y="234.4" font-size="24.7" fill="#000" text-anchor="end" textLength="64.7" lengthAdjust="spacingAndGlyphs" stroke="#000" stroke-width="0.35">4.00M</text><text x="104.2" y="305.2" font-size="24.7" fill="#000" text-anchor="end" textLength="64.7" lengthAdjust="spacingAndGlyphs" stroke="#000" stroke-width="0.35">3.00M</text><text x="104.2" y="376.8" font-size="24.7" fill="#000" text-anchor="end" textLength="64.7" lengthAdjust="spacingAndGlyphs" stroke="#000" stroke-width="0.35">2.00M</text><text x="104.2" y="447.8" font-size="24.7" fill="#000" text-anchor="end" textLength="64.7" lengthAdjust="spacingAndGlyphs" stroke="#000" stroke-width="0.35">1.00M</text><text x="104.2" y="517.9" font-size="24.7" fill="#000" text-anchor="end" textLength="60.9" lengthAdjust="spacingAndGlyphs" stroke="#000" stroke-width="0.35">2.02K</text><text x="1359.6" y="186.5" font-size="24.7" fill="#000" textLength="90.6" lengthAdjust="spacingAndGlyphs" stroke="#000" stroke-width="0.35">800.00M</text><text x="1359.6" y="269.7" font-size="24.7" fill="#000" textLength="90.6" lengthAdjust="spacingAndGlyphs" stroke="#000" stroke-width="0.35">600.00M</text><text x="1359.6" y="353.4" font-size="24.7" fill="#000" textLength="90.6" lengthAdjust="spacingAndGlyphs" stroke="#000" stroke-width="0.35">400.00M</text><text x="1359.6" y="435.8" font-size="24.7" fill="#000" textLength="90.6" lengthAdjust="spacingAndGlyphs" stroke="#000" stroke-width="0.35">200.00M</text><text x="1359.6" y="518.8" font-size="24.7" fill="#000" textLength="13.0" lengthAdjust="spacingAndGlyphs" stroke="#000" stroke-width="0.35">0</text><text x="120.0" y="546.0" font-size="24.7" fill="#000" text-anchor="middle" textLength="71.2" lengthAdjust="spacingAndGlyphs" stroke="#000" stroke-width="0.35">2693.9</text><text x="211.9" y="546.0" font-size="24.7" fill="#000" text-anchor="middle" textLength="51.8" lengthAdjust="spacingAndGlyphs" stroke="#000" stroke-width="0.35">2743</text><text x="303.8" y="546.0" font-size="24.7" fill="#000" text-anchor="middle" textLength="71.2" lengthAdjust="spacingAndGlyphs" stroke="#000" stroke-width="0.35">2792.1</text><text x="395.7" y="546.0" font-size="24.7" fill="#000" text-anchor="middle" textLength="71.2" lengthAdjust="spacingAndGlyphs" stroke="#000" stroke-width="0.35">2841.2</text><text x="487.6" y="546.0" font-size="24.7" fill="#000" text-anchor="middle" textLength="71.2" lengthAdjust="spacingAndGlyphs" stroke="#000" stroke-width="0.35">2890.3</text><text x="579.5" y="546.0" font-size="24.7" fill="#000" text-anchor="middle" textLength="71.2" lengthAdjust="spacingAndGlyphs" stroke="#000" stroke-width="0.35">2939.4</text><text x="671.4" y="546.0" font-size="24.7" fill="#000" text-anchor="middle" textLength="71.2" lengthAdjust="spacingAndGlyphs" stroke="#000" stroke-width="0.35">2988.5</text><text x="763.3" y="546.0" font-size="24.7" fill="#000" text-anchor="middle" textLength="71.2" lengthAdjust="spacingAndGlyphs" stroke="#000" stroke-width="0.35">3037.6</text><text x="855.2" y="546.0" font-size="24.7" fill="#000" text-anchor="middle" textLength="71.2" lengthAdjust="spacingAndGlyphs" stroke="#000" stroke-width="0.35">3086.7</text><text x="947.1" y="546.0" font-size="24.7" fill="#000" text-anchor="middle" textLength="71.2" lengthAdjust="spacingAndGlyphs" stroke="#000" stroke-width="0.35">3135.8</text><text x="1039.0" y="546.0" font-size="24.7" fill="#000" text-anchor="middle" textLength="71.2" lengthAdjust="spacingAndGlyphs" stroke="#000" stroke-width="0.35">3184.9</text><text x="1130.9" y="546.0" font-size="24.7" fill="#000" text-anchor="middle" textLength="51.8" lengthAdjust="spacingAndGlyphs" stroke="#000" stroke-width="0.35">3234</text><text x="1222.8" y="546.0" font-size="24.7" fill="#000" text-anchor="middle" textLength="71.2" lengthAdjust="spacingAndGlyphs" stroke="#000" stroke-width="0.35">3283.1</text><text x="1314.7" y="546.0" font-size="24.7" fill="#000" text-anchor="middle" textLength="71.2" lengthAdjust="spacingAndGlyphs" stroke="#000" stroke-width="0.35">3332.2</text>
<rect x="122" y="550" width="1223" height="10" fill="#eef2fc"/>
</svg>
</body></html>
